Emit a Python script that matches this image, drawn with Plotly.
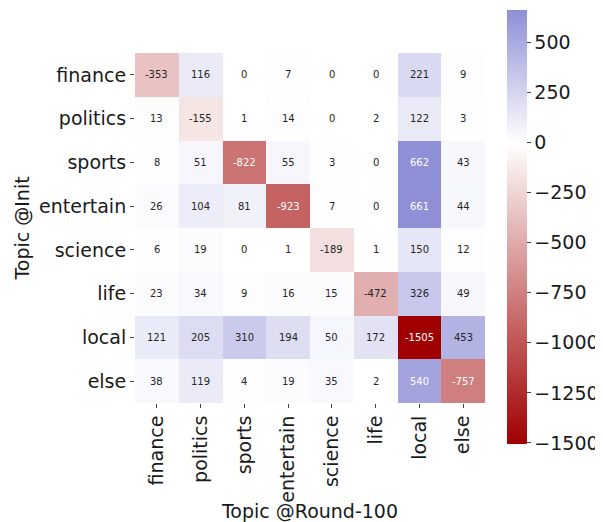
import plotly.graph_objects as go

topics = ["finance", "politics", "sports", "entertain", "science", "life", "local", "else"]
values = [
    [-353, 116, 0, 7, 0, 0, 221, 9],
    [13, -155, 1, 14, 0, 2, 122, 3],
    [8, 51, -822, 55, 3, 0, 662, 43],
    [26, 104, 81, -923, 7, 0, 661, 44],
    [6, 19, 0, 1, -189, 1, 150, 12],
    [23, 34, 9, 16, 15, -472, 326, 49],
    [121, 205, 310, 194, 50, 172, -1505, 453],
    [38, 119, 4, 19, 35, 2, 540, -757],
]
cbar_ticks = [-1500, -1250, -1000, -750, -500, -250, 0, 250, 500]

zmin = min(min(r) for r in values)
zmax = max(max(r) for r in values)
mid = (0 - zmin) / (zmax - zmin)
colorscale = [[0.0, "#a00000"], [mid, "#ffffff"], [1.0, "#8e8fd6"]]

FONT = "DejaVu Sans"

fig = go.Figure(go.Heatmap(
    z=values, x=topics, y=topics,
    zmin=zmin, zmax=zmax, colorscale=colorscale,
    hoverongaps=False,
    colorbar=dict(
        x=1.063, xanchor="left", xpad=0,
        y=0.503, yanchor="middle", ypad=0,
        lenmode="pixels", len=434, thickness=20,
        outlinewidth=0,
        tickvals=cbar_ticks,
        ticktext=[str(t).replace("-", "\u2212") for t in cbar_ticks],
        ticks="outside", ticklen=4, tickcolor="#444",
        tickfont=dict(size=19, family=FONT, color="#1a1a1a"),
    ),
))

annotations = []
for i, row in enumerate(values):
    for j, v in enumerate(row):
        col = "#ffffff" if (v <= -700 or v >= 500) else "#262626"
        annotations.append(dict(
            x=topics[j], y=topics[i], text=str(v), showarrow=False,
            font=dict(size=10, family=FONT, color=col),
        ))

fig.update_layout(
    width=595, height=514,
    margin=dict(l=127, r=118, t=45, b=119, autoexpand=False),
    paper_bgcolor="white", plot_bgcolor="white",
    font=dict(family=FONT, color="#1a1a1a"),
    annotations=annotations,
    xaxis=dict(
        tickangle=-90, tickfont=dict(size=19, family=FONT),
        ticks="outside", ticklen=4, tickcolor="#444",
        showgrid=False, zeroline=False, showline=False, automargin=False,
        title=dict(text="Topic @Round-100", font=dict(size=19, family=FONT), standoff=4),
    ),
    yaxis=dict(
        autorange="reversed", tickfont=dict(size=19, family=FONT),
        ticks="outside", ticklen=4, tickcolor="#444",
        showgrid=False, zeroline=False, showline=False, automargin=False,
        title=dict(text="Topic @Init", font=dict(size=19, family=FONT), standoff=4),
    ),
)

fig.write_html("out.html")
